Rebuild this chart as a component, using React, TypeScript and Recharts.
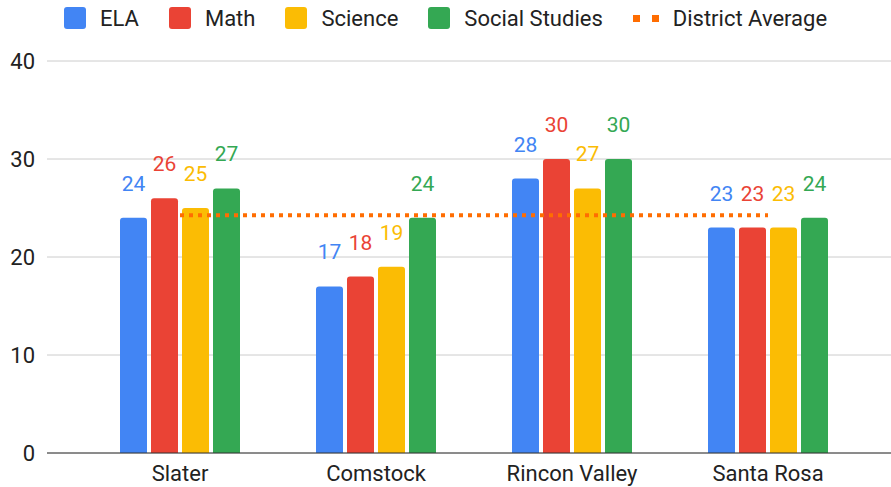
import React from "react";
import {
  ComposedChart,
  Bar,
  Line,
  XAxis,
  YAxis,
  CartesianGrid,
  Legend,
  LabelList,
} from "recharts";

const schools = ["Slater", "Comstock", "Rincon Valley", "Santa Rosa"];
const ela = [24, 17, 28, 23];
const math = [26, 18, 30, 23];
const science = [25, 19, 27, 23];
const social = [27, 24, 30, 24];
const districtAvg = [24.25, 24.25, 24.25, 24.25];
const yTicks = [0, 10, 20, 30, 40];

const series = [
  { key: "ela", name: "ELA", color: "#4285F4" },
  { key: "math", name: "Math", color: "#EA4335" },
  { key: "science", name: "Science", color: "#FBBC04" },
  { key: "social", name: "Social Studies", color: "#34A853" },
];
const avgColor = "#FF6D01";

const data = schools.map((s, i) => ({
  school: s,
  ela: ela[i],
  math: math[i],
  science: science[i],
  social: social[i],
  avg: districtAvg[i],
}));

const LegendBox = () => (
  <div
    style={{
      display: "flex",
      alignItems: "center",
      height: 40,
      paddingLeft: 64,
      fontSize: 22,
      color: "#222",
      marginTop: -2,
    }}
  >
    {series.map((s) => (
      <div key={s.key} style={{ display: "flex", alignItems: "center", marginRight: 30 }}>
        <span
          style={{
            width: 22,
            height: 22,
            borderRadius: 3,
            background: s.color,
            marginRight: 14,
            display: "inline-block",
          }}
        />
        <span>{s.name}</span>
      </div>
    ))}
    <div style={{ display: "flex", alignItems: "center" }}>
      <span style={{ width: 26, marginRight: 14, display: "flex", justifyContent: "space-between" }}>
        <span style={{ width: 7, height: 7, background: avgColor }} />
        <span style={{ width: 7, height: 7, background: avgColor }} />
      </span>
      <span>District Average</span>
    </div>
  </div>
);

export default function App() {
  return (
    <div style={{ position: "absolute", left: 0, top: 0, fontFamily: "Roboto" }}>
      <ComposedChart
        width={891}
        height={487}
        data={data}
        margin={{ top: 21, right: 0, bottom: 0, left: 0 }}
        barSize={27}
        barGap={4}
      >
        <Legend
          verticalAlign="top"
          height={40}
          wrapperStyle={{ top: 0, left: 0 }}
          content={() => <LegendBox />}
        />
        <CartesianGrid vertical={false} stroke="#ccc" />
        <XAxis
          dataKey="school"
          height={34}
          padding={{ left: 35, right: 25 }}
          tickLine={false}
          tickSize={0}
          tickMargin={12}
          axisLine={{ stroke: "#333" }}
          tick={{ fontSize: 22, fill: "#222" }}
        />
        <YAxis
          width={47}
          domain={[0, 40]}
          ticks={yTicks}
          axisLine={false}
          tickLine={false}
          tickSize={0}
          tickMargin={12}
          tick={{ fontSize: 22, fill: "#222" }}
        />
        {series.map((s) => (
          <Bar
            key={s.key}
            dataKey={s.key}
            name={s.name}
            fill={s.color}
            radius={[3, 3, 0, 0]}
            isAnimationActive={false}
          >
            <LabelList dataKey={s.key} position="top" offset={27} fill={s.color} fontSize={21} />
          </Bar>
        ))}
        <Line
          dataKey="avg"
          name="District Average"
          type="linear"
          stroke={avgColor}
          strokeWidth={4}
          strokeDasharray="4 5"
          dot={false}
          activeDot={false}
          isAnimationActive={false}
        />
      </ComposedChart>
    </div>
  );
}
